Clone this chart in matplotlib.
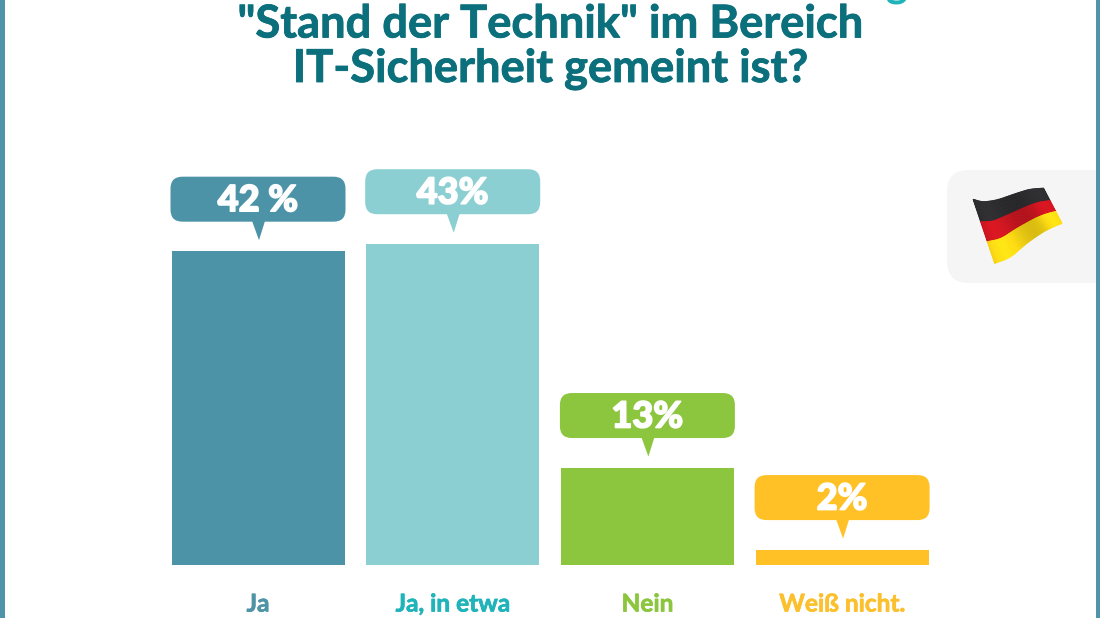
#!/usr/bin/env python3
#
# Bar chart with speech bubble labels: understanding of "Stand der Technik"
#
import numpy as np
import matplotlib
matplotlib.use('Agg')
import matplotlib.pyplot as plt
import matplotlib.patheffects as pe
from matplotlib.patches import FancyBboxPatch, Polygon

W, H = 1100, 618

categories = ['Ja', 'Ja, in etwa', 'Nein', 'Weiß nicht.']
values = [42, 43, 13, 2]
value_labels = ['42 %', '43%', '13%', '2%']
bar_colors = ['#4C93A8', '#8BCFD2', '#8CC63F', '#FFC125']
label_colors = ['#4F94A6', '#1FB3BA', '#8CC63F', '#FBC02D']
title_lines = ['"Stand der Technik" im Bereich', 'IT-Sicherheit gemeint ist?']

fig = plt.figure(figsize=(W / 100, H / 100), dpi=100, facecolor='white')

# overlay in pixel units for frame, title and flag panel
bg = fig.add_axes([0, 0, 1, 1])
bg.set_xlim(0, W)
bg.set_ylim(H, 0)
bg.axis('off')

# side borders
bg.fill_between([0, 4.5], 0, H, color='#4F94A8', lw=0)
bg.fill_between([1095.5, W], 0, H, color='#4F94A8', lw=0, zorder=3)

# descenders of the cut off first title line
bg.text(542, -7, 'y', color='#1FB3BA', fontsize=30, family='Lato',
        weight='bold', ha='center', va='baseline')
bg.text(897, -4, 'g', color='#1FB3BA', fontsize=30, family='Lato',
        weight='bold', ha='center', va='baseline')

for line, y in zip(title_lines, [37.5, 82]):
  bg.text(550, y, line, color='#0B6F7C', fontsize=32.6, family='Lato',
          weight='bold', ha='center', va='baseline',
          path_effects=[pe.withStroke(linewidth=0.6, foreground='#0B6F7C')])

# flag panel
bg.add_patch(FancyBboxPatch((947, 170), 175, 113, boxstyle='round,pad=0,rounding_size=22',
                            fc='#F5F5F6', ec='none'))

# waving flag, built from strips between a top and a bottom edge curve
top_x = np.array([972, 983, 997, 1017, 1030, 1045])
top_y = np.array([199, 202, 200, 193, 189, 188])
bot_x = np.array([993, 1010, 1027, 1043, 1053, 1063])
bot_y = np.array([264, 258, 243, 232, 227, 223])
s_in = np.linspace(0, 1, 6)
s = np.linspace(0, 1, 61)
# smooth the edge curves so the cloth has no kinks
smooth = np.ones(9) / 9
def edge(v):
  raw = np.interp(s, s_in, v)
  padded = np.concatenate([np.full(4, raw[0]), raw, np.full(4, raw[-1])])
  return np.convolve(padded, smooth, mode='valid')
tx, ty = edge(top_x), edge(top_y)
bx, by = edge(bot_x), edge(bot_y)
bands = [((0.0, 0.35), (0.17, 0.17, 0.18)),
         ((0.35, 0.66), (0.78, 0.08, 0.12)),
         ((0.66, 1.0), (0.95, 0.82, 0.07))]
for (t0, t1), rgb in bands:
  for i in range(len(s) - 1):
    shade = 1.0 + 0.10 * np.sin(s[i] * 9.0)
    col = tuple(min(1, c * shade) for c in rgb)
    pts = [(tx[i] + t0 * (bx[i] - tx[i]), ty[i] + t0 * (by[i] - ty[i])),
           (tx[i + 1] + t0 * (bx[i + 1] - tx[i + 1]), ty[i + 1] + t0 * (by[i + 1] - ty[i + 1])),
           (tx[i + 1] + t1 * (bx[i + 1] - tx[i + 1]), ty[i + 1] + t1 * (by[i + 1] - ty[i + 1])),
           (tx[i] + t1 * (bx[i] - tx[i]), ty[i] + t1 * (by[i] - ty[i]))]
    bg.add_patch(Polygon(pts, closed=True, fc=col, ec=col, lw=0.6))

# bar axes: x in bar index, y in percent, baseline at y=564.5 px
px_per_pct = 7.46
base_px = 564.5
x_per_px = 1 / 194.7
ax = fig.add_axes([0, (H - base_px) / H, 1, base_px / H])
ax.patch.set_alpha(0)
ax.set_xlim(-258 * x_per_px, (W - 258) * x_per_px)
ax.set_ylim(0, base_px / px_per_pct)
ax.axis('off')

x = np.arange(len(values))
bar_w = 173 * x_per_px
ax.bar(x, values, width=bar_w, color=bar_colors, linewidth=0)

# speech bubbles, sizes given in pixels above the top of each bar
for xi, v, lab, col in zip(x, values, value_labels, bar_colors):
  bub_w = 175 * x_per_px
  bub_h = 45 / px_per_pct
  bub_y = v + 29.5 / px_per_pct
  ax.add_patch(FancyBboxPatch((xi - bub_w / 2, bub_y), bub_w, bub_h,
                              boxstyle='round,pad=0,rounding_size=%f' % (12 * x_per_px),
                              mutation_aspect=(1 / px_per_pct) / x_per_px,
                              fc=col, ec='none'))
  ax.add_patch(Polygon([(xi - 6 * x_per_px, bub_y + 0.1), (xi + 7 * x_per_px, bub_y + 0.1),
                        (xi + 1 * x_per_px, v + 11 / px_per_pct)], closed=True, fc=col, ec='none'))
  ax.text(xi, bub_y + 21 / px_per_pct, lab, color='white', fontsize=26, family='Lato',
          weight='black', ha='center', va='center',
          path_effects=[pe.withStroke(linewidth=1.2, foreground='white')])

# category names under the bars
for xi, cat, col in zip(x, categories, label_colors):
  ax.text(xi, -47 / px_per_pct, cat, color=col, fontsize=17.6, family='Lato',
          weight='bold', ha='center', va='baseline', clip_on=False,
          path_effects=[pe.withStroke(linewidth=0.5, foreground=col)])

fig.savefig('out.png', dpi=100)
plt.close()
